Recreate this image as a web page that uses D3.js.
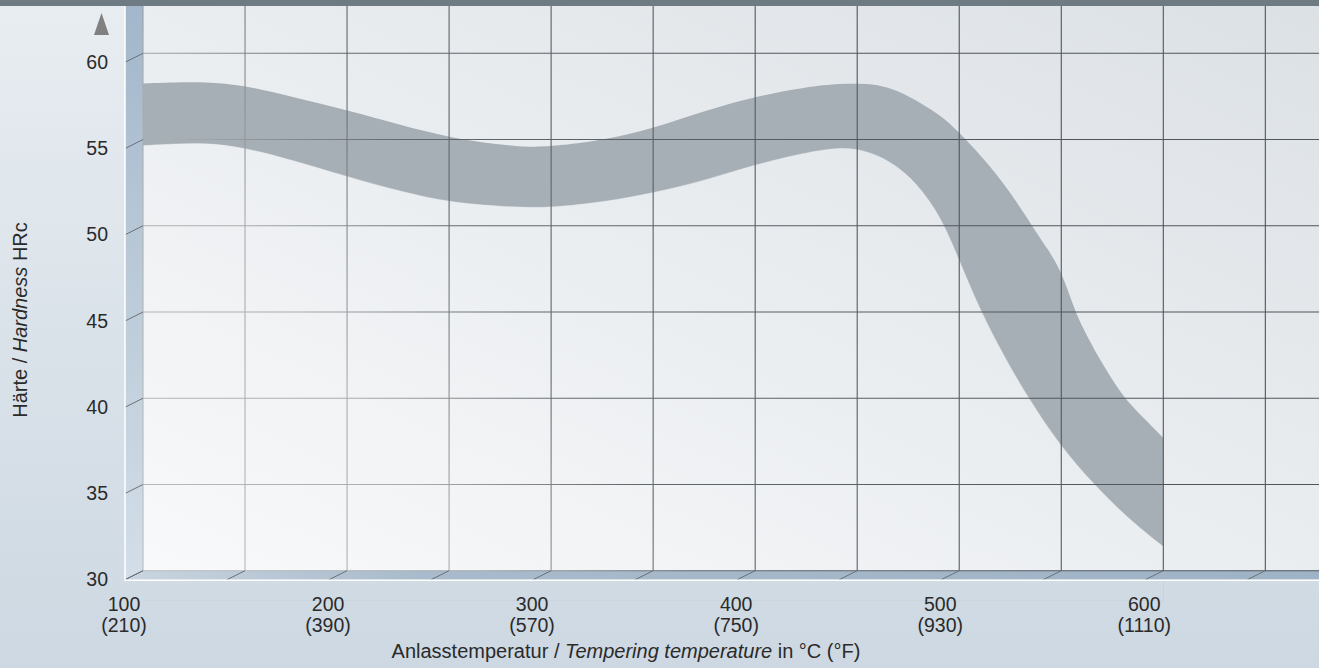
<!DOCTYPE html>
<html>
<head>
<meta charset="utf-8">
<script src="https://cdn.jsdelivr.net/npm/d3@7/dist/d3.min.js"></script>
<style>
  html, body { margin: 0; padding: 0; overflow: hidden; }
  svg { display: block; font-family: "Liberation Sans", Arial, sans-serif; }
</style>
</head>
<body>
<svg id="chart" width="1319" height="668"></svg>
<script>
// ---- data ----
const tempTicks   = [100, 200, 300, 400, 500, 600];
const tempTicksF  = ["(210)", "(390)", "(570)", "(750)", "(930)", "(1110)"];
const gridTemps   = [100, 150, 200, 250, 300, 350, 400, 450, 500, 550, 600, 650];
const hardTicks   = [30, 35, 40, 45, 50, 55, 60];

const upperTemp = [100, 115, 130, 150, 172, 200, 226, 250, 278, 292, 304, 327, 350, 376, 400, 425, 442, 455, 465, 475, 490, 500, 520, 536, 543, 550, 556, 560, 569, 580, 590, 600];
const upperHRC  = [58.25, 58.3, 58.35, 58.15, 57.5, 56.7, 55.85, 55.1, 54.65, 54.55, 54.65, 55.0, 55.65, 56.7, 57.5, 58.05, 58.25, 58.25, 58.05, 57.55, 56.5, 55.45, 52.85, 49.95, 48.7, 47.4, 45.3, 44.2, 42.2, 40.1, 38.9, 37.7];
const lowerTemp = [100, 115, 131, 149, 172, 200, 226, 250, 278, 292, 304, 327, 350, 376, 400, 425, 438, 448, 458, 468, 479, 491, 500, 510, 523, 534, 549, 566, 582, 600];
const lowerHRC  = [54.65, 54.75, 54.8, 54.55, 53.85, 52.85, 52.0, 51.35, 51.1, 51.05, 51.1, 51.4, 51.9, 52.65, 53.55, 54.25, 54.5, 54.5, 54.2, 53.6, 52.5, 50.55, 48.0, 45.15, 42.2, 40.0, 37.3, 35.0, 33.1, 31.4];

const yTitle = ["Härte / ", "Hardness", " HRc"];
const xTitle = ["Anlasstemperatur / ", "Tempering temperature", " in °C (°F)"];

// ---- layout ----
const W = 1319, H = 668;
const plotL = 143, plotR = 1319, plotT = 6;
const depthX = -18, depthY = 9;

const x = d3.scaleLinear().domain([100, 600]).range([143, 1163.3]);
const y = d3.scaleLinear().domain([30, 60]).range([570.7, 53.3]);
const plotB = y(30);

const svg = d3.select("#chart");
const defs = svg.append("defs");

function lin(id, x1, y1, x2, y2, stops, units) {
  const g = defs.append("linearGradient").attr("id", id)
    .attr("x1", x1).attr("y1", y1).attr("x2", x2).attr("y2", y2);
  if (units) g.attr("gradientUnits", units);
  stops.forEach(s => g.append("stop").attr("offset", s[0]).attr("stop-color", s[1]));
}
lin("bgGrad", 0, 0, 0, 1, [[0, "#e8edf1"], [1, "#cdd8e2"]]);
lin("plotGrad", 0, 1, 1, 0, [[0, "#f8f9fa"], [0.5, "#eaedf0"], [1, "#dce1e5"]]);
lin("wallGrad", 0, 0, 0, 1, [[0, "#a2b7cb"], [0.5, "#bccbd9"], [1, "#d3dee8"]]);
lin("floorGrad", 0, 0, 1, 0, [[0, "#c9d5e0"], [0.25, "#a8bacb"], [1, "#9fb3c6"]]);
lin("gridGrad", 143, 571, 900, 60, [[0, "#bbbcbd"], [0.3, "#a9abad"], [0.5, "#62676b"], [1, "#4f555a"]], "userSpaceOnUse");

// outer background
svg.append("rect").attr("width", W).attr("height", H).attr("fill", "url(#bgGrad)");
// plot back wall
svg.append("rect").attr("x", plotL).attr("y", plotT).attr("width", plotR - plotL).attr("height", plotB - plotT)
  .attr("fill", "url(#plotGrad)");

// band = area under upper curve minus area under lower curve
const upperPts = upperTemp.map((t, i) => ({ t, h: upperHRC[i] }));
const lowerPts = lowerTemp.map((t, i) => ({ t, h: lowerHRC[i] }));
const area = d3.area().curve(d3.curveBasis)
  .x(d => x(d.t)).y0(plotB + 30).y1(d => y(d.h));

const mask = defs.append("mask").attr("id", "bandMask").attr("maskUnits", "userSpaceOnUse")
  .attr("x", 0).attr("y", 0).attr("width", W).attr("height", H);
mask.append("rect").attr("width", W).attr("height", H).attr("fill", "#fff");
mask.append("path").attr("d", area(lowerPts)).attr("fill", "#000")
  .attr("stroke", "#000").attr("stroke-width", 0.3);

svg.append("path")
  .attr("d", area(upperPts))
  .attr("fill", "#a6afb6")
  .attr("mask", "url(#bandMask)");

// left wall
svg.append("path")
  .attr("d", `M${plotL + depthX},${plotT}L${plotL},${plotT}L${plotL},${plotB}L${plotL + depthX},${plotB + depthY}Z`)
  .attr("fill", "url(#wallGrad)");
// floor (covers anything below the back floor line)
svg.append("path")
  .attr("d", `M${plotL},${plotB}L${plotR},${plotB}L${plotR},${plotB + depthY}L${plotL + depthX},${plotB + depthY}Z`)
  .attr("fill", "url(#floorGrad)");
svg.append("rect").attr("x", 0).attr("y", plotB + depthY).attr("width", W).attr("height", 40)
  .attr("fill", "url(#bgGrad)").attr("opacity", 0);

// grid
const grid = svg.append("g").attr("stroke", "url(#gridGrad)").attr("stroke-width", 1.1).attr("fill", "none");
gridTemps.forEach(t => {
  grid.append("line").attr("x1", x(t)).attr("x2", x(t)).attr("y1", plotT).attr("y2", plotB);
});
hardTicks.forEach(h => {
  grid.append("line").attr("x1", plotL).attr("x2", plotR).attr("y1", y(h)).attr("y2", y(h));
});

// depth ticks
const dt = svg.append("g").attr("stroke", "#6c7176").attr("stroke-width", 1);
hardTicks.forEach(h => {
  dt.append("line").attr("x1", plotL + depthX).attr("y1", y(h) + depthY).attr("x2", plotL).attr("y2", y(h));
});
gridTemps.forEach(t => {
  dt.append("line").attr("x1", x(t) + depthX).attr("y1", plotB + depthY).attr("x2", x(t)).attr("y2", plotB);
});

// white front edges
svg.append("path")
  .attr("d", `M${plotL + depthX},${plotT}L${plotL + depthX},${plotB + depthY + 0.5}L${plotR},${plotB + depthY + 0.5}`)
  .attr("stroke", "#ffffff").attr("stroke-width", 1.5).attr("fill", "none");

// top bar
svg.append("rect").attr("x", 0).attr("y", 0).attr("width", W).attr("height", plotT).attr("fill", "#6f7b83");

// y arrow
svg.append("path").attr("d", "M94,35L109,35L101.5,13Z").attr("fill", "#808080");

const textCol = "#2a2a2a";
// y tick labels
svg.append("g").selectAll("text").data(hardTicks).join("text")
  .attr("x", 108).attr("y", d => y(d) + depthY + 6.5)
  .attr("text-anchor", "end").attr("font-size", 19.5).attr("fill", textCol)
  .text(d => d);

// x tick labels
const xl = svg.append("g").selectAll("text").data(tempTicks).join("text")
  .attr("text-anchor", "middle").attr("font-size", 19.5).attr("fill", textCol);
xl.append("tspan").attr("x", d => x(d) + depthX - 1).attr("y", 611).text(d => d);
xl.append("tspan").attr("x", d => x(d) + depthX - 1).attr("y", 632).text((d, i) => tempTicksF[i]);

// axis titles
const xt = svg.append("text").attr("x", 626).attr("y", 658).attr("text-anchor", "middle")
  .attr("font-size", 20).attr("fill", textCol);
xt.append("tspan").text(xTitle[0]);
xt.append("tspan").attr("font-style", "italic").text(xTitle[1]);
xt.append("tspan").text(xTitle[2]);

const yt = svg.append("text").attr("transform", "translate(27,320) rotate(-90)").attr("text-anchor", "middle")
  .attr("font-size", 20).attr("fill", textCol);
yt.append("tspan").text(yTitle[0]);
yt.append("tspan").attr("font-style", "italic").text(yTitle[1]);
yt.append("tspan").text(yTitle[2]);
</script>
</body>
</html>
